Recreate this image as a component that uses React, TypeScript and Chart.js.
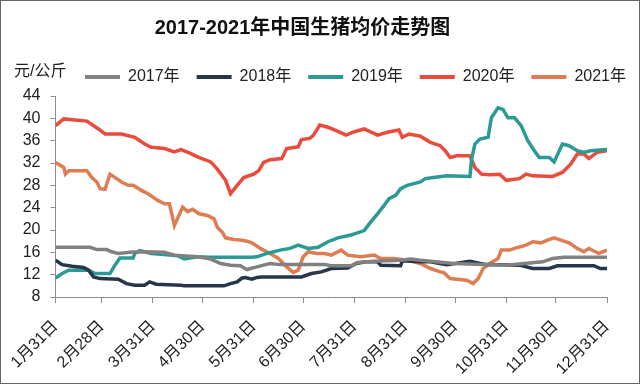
import { useEffect, useRef } from 'react';
import { Chart, registerables } from 'chart.js';

Chart.register(...registerables);

const TITLE = '2017-2021年中国生猪均价走势图';
const UNIT = '元/公斤';
const FONT = '"Liberation Sans", "Noto Sans CJK SC", sans-serif';

// month-end tick positions (day of year) and labels
const tickDays = [31, 59, 90, 120, 151, 181, 212, 243, 273, 304, 334, 365];
const tickLabels = ['1月31日', '2月28日', '3月31日', '4月30日', '5月31日', '6月30日', '7月31日', '8月31日', '9月30日', '10月31日', '11月30日', '12月31日'];

const seriesNames = ['2017年', '2018年', '2019年', '2020年', '2021年'];
const seriesColors = ['#818181', '#27364a', '#2b9a94', '#e94b3d', '#df7c52'];

// 2017
const days2017 = [31, 52, 56, 62, 65, 69, 76, 85, 97, 103, 117, 125, 131, 137, 143, 147, 149, 153, 157, 161, 167, 194, 198, 210, 214, 224, 240, 246, 252, 272, 304, 326, 332, 339, 365];
const price2017 = [16.9, 16.9, 16.5, 16.5, 16.1, 15.8, 16.0, 16.1, 16.0, 15.5, 15.2, 14.8, 14.0, 13.7, 13.6, 12.9, 13.1, 13.4, 13.7, 14.0, 13.8, 13.8, 13.6, 13.6, 14.2, 14.4, 14.6, 14.8, 14.6, 14.0, 13.7, 14.3, 14.9, 15.1, 15.1];

// 2018
const days2018 = [31, 35, 41, 48, 51, 54, 58, 69, 74, 79, 85, 88, 92, 107, 109, 133, 137, 141, 144, 146, 150, 153, 156, 180, 186, 192, 198, 208, 213, 219, 226, 228, 240, 241, 252, 258, 268, 282, 292, 312, 320, 330, 335, 357, 361, 365];
const price2018 = [14.6, 13.8, 13.5, 13.3, 12.8, 11.6, 11.3, 11.2, 10.4, 10.1, 10.1, 10.7, 10.3, 10.1, 10.0, 10.0, 10.4, 10.7, 11.4, 11.5, 11.2, 11.5, 11.6, 11.6, 12.2, 12.5, 13.1, 13.2, 14.0, 14.3, 14.3, 13.7, 13.6, 14.5, 14.3, 14.3, 13.8, 14.4, 13.8, 13.7, 13.1, 13.1, 13.6, 13.6, 13.1, 13.1];

// 2019
const days2019 = [31, 35, 39, 51, 55, 64, 67, 70, 78, 79, 82, 89, 93, 105, 109, 117, 125, 150, 153, 159, 167, 173, 178, 184, 190, 196, 202, 210, 213, 218, 221, 226, 230, 233, 237, 240, 244, 252, 255, 260, 268, 282, 283, 285, 288, 293, 295, 299, 302, 305, 309, 313, 317, 321, 324, 330, 333, 338, 342, 347, 351, 355, 365];
const price2019 = [11.4, 12.2, 12.8, 12.8, 12.2, 12.2, 13.7, 15.0, 15.0, 15.8, 16.3, 15.8, 15.7, 15.4, 14.8, 15.2, 15.1, 15.1, 15.2, 15.8, 16.4, 16.7, 17.3, 16.7, 16.9, 17.9, 18.6, 19.1, 19.4, 19.9, 21.1, 22.9, 24.4, 25.6, 26.2, 27.4, 28.0, 28.6, 29.2, 29.4, 29.7, 29.6, 32.7, 35.4, 36.3, 36.6, 40.1, 41.9, 41.6, 40.1, 40.1, 38.7, 36.0, 34.2, 33.0, 33.0, 32.2, 35.4, 35.1, 34.2, 33.9, 34.2, 34.4];

// 2020
const days2020 = [31, 36, 50, 57, 61, 71, 79, 85, 89, 97, 103, 107, 112, 117, 125, 129, 134, 137, 141, 145, 151, 154, 157, 161, 168, 171, 178, 180, 185, 187, 189, 191, 196, 201, 207, 212, 218, 226, 232, 239, 241, 245, 252, 258, 264, 267, 270, 274, 282, 285, 289, 294, 300, 304, 312, 316, 320, 332, 338, 343, 347, 351, 354, 359, 365];
const price2020 = [38.7, 39.9, 39.5, 38.1, 37.2, 37.2, 36.6, 35.4, 34.8, 34.6, 34.0, 34.4, 33.8, 33.1, 32.2, 30.9, 28.9, 26.5, 28.0, 29.4, 30.0, 30.6, 32.1, 32.6, 32.8, 34.6, 34.9, 36.2, 36.4, 36.9, 37.8, 38.8, 38.4, 37.8, 37.0, 37.6, 38.1, 37.0, 37.5, 37.9, 36.6, 37.2, 36.8, 35.7, 35.1, 34.2, 33.0, 33.3, 33.3, 31.2, 30.0, 29.9, 30.0, 28.9, 29.2, 30.0, 29.7, 29.6, 30.3, 31.8, 33.6, 33.6, 32.8, 33.9, 34.2];

// 2021
const days2021 = [31, 36, 37, 39, 50, 53, 56, 58, 61, 64, 71, 75, 78, 83, 87, 93, 97, 100, 103, 108, 111, 114, 118, 123, 127, 129, 132, 134, 139, 143, 147, 150, 155, 161, 166, 171, 175, 178, 181, 184, 189, 194, 198, 204, 208, 216, 224, 228, 236, 244, 252, 258, 264, 266, 270, 280, 284, 287, 290, 294, 299, 301, 306, 310, 316, 320, 325, 329, 333, 337, 342, 347, 351, 354, 360, 365];
const price2021 = [32.1, 31.2, 30.0, 30.6, 30.6, 29.4, 28.6, 27.4, 27.3, 30.0, 28.6, 28.0, 28.0, 27.1, 26.5, 25.3, 24.7, 24.7, 20.8, 24.1, 23.3, 23.7, 22.9, 22.6, 22.0, 20.5, 19.6, 18.6, 18.3, 18.2, 18.0, 17.7, 16.7, 15.8, 14.9, 13.4, 12.4, 12.8, 15.2, 16.1, 15.8, 15.8, 15.5, 16.4, 15.5, 15.2, 15.5, 14.9, 14.9, 14.6, 14.0, 13.1, 12.5, 12.4, 11.3, 11.0, 10.4, 11.3, 13.1, 14.0, 14.9, 16.4, 16.4, 16.8, 17.3, 17.9, 17.7, 18.2, 18.6, 18.2, 17.7, 16.7, 16.1, 16.7, 15.8, 16.4];

const yMin = 8;
const yMax = 44;
const yStep = 4;

const allDays = [days2017, days2018, days2019, days2020, days2021];
const allPrices = [price2017, price2018, price2019, price2020, price2021];

const extras = {
  id: 'extras',
  afterLayout(chart: any) {
    const lg = chart.legend;
    if (lg) {
      const w = lg.right - lg.left;
      lg.left = 68;
      lg.right = 68 + w;
      const h = lg.bottom - lg.top;
      lg.top = 52;
      lg.bottom = 52 + h;
    }
    const tb = chart.titleBlock;
    if (tb) {
      tb.left = 0;
      tb.right = 605;
    }
  },
  afterDraw(chart: any) {
    const ctx = chart.ctx;
    ctx.save();
    ctx.font = '16px ' + FONT;
    ctx.fillStyle = '#222';
    ctx.textBaseline = 'middle';
    ctx.textAlign = 'left';
    ctx.fillText(UNIT, 14, 72);
    ctx.strokeStyle = '#666';
    ctx.lineWidth = 1;
    ctx.strokeRect(0.5, 0.5, 639, 383);
    ctx.restore();
  },
};

export default function App() {
  const ref = useRef<HTMLCanvasElement>(null);
  useEffect(() => {
    document.body.style.margin = '0';
    const canvas = ref.current;
    if (!canvas) return;
    const chart = new Chart(canvas, {
      type: 'line',
      data: {
        datasets: seriesNames.map((name, i) => ({
          label: name,
          data: allDays[i].map((d, j) => ({ x: d, y: allPrices[i][j] })),
          borderColor: seriesColors[i],
          backgroundColor: seriesColors[i],
          borderWidth: 3.5,
          pointRadius: 0,
          tension: 0,
          fill: false,
        })),
      },
      options: {
        responsive: false,
        animation: false,
        events: [],
        layout: { padding: { left: 0, right: 33, top: 0, bottom: 0 } },
        plugins: {
          title: {
            display: true,
            text: TITLE,
            color: '#111',
            font: { family: FONT, size: 20, weight: 'bold', lineHeight: 1.2 },
            padding: { top: 16, bottom: 13 },
          },
          legend: {
            display: true,
            position: 'top',
            align: 'start',
            labels: {
              boxWidth: 35,
              boxHeight: 4,
              padding: 17,
              color: '#222',
              font: { family: FONT, size: 16 },
              generateLabels: (c: any) =>
                Chart.defaults.plugins.legend.labels.generateLabels(c).map((l: any) => ({ ...l, lineWidth: 0 })),
            },
          },
          tooltip: { enabled: false },
        },
        scales: {
          x: {
            type: 'linear',
            min: tickDays[0],
            max: tickDays[tickDays.length - 1],
            afterBuildTicks: (axis: any) => {
              axis.ticks = tickDays.map((v) => ({ value: v }));
            },
            afterFit: (axis: any) => {
              axis.height = 87;
            },
            ticks: {
              autoSkip: false,
              minRotation: 45,
              maxRotation: 45,
              padding: 14,
              color: '#222',
              font: { family: FONT, size: 16 },
              callback: (v: any) => tickLabels[tickDays.indexOf(Number(v))] ?? '',
            },
            grid: { drawOnChartArea: false, drawTicks: true, tickLength: 6, color: '#8c8c8c' },
            border: { display: true, color: '#8c8c8c', width: 1 },
          },
          y: {
            min: yMin,
            max: yMax,
            afterFit: (axis: any) => {
              axis.width = 54;
            },
            ticks: {
              stepSize: yStep,
              padding: 10,
              color: '#222',
              font: { family: FONT, size: 16 },
            },
            grid: { drawOnChartArea: false, drawTicks: true, tickLength: 5, color: '#8c8c8c' },
            border: { display: true, color: '#8c8c8c', width: 1 },
          },
        },
      },
      plugins: [extras],
    } as any);
    return () => chart.destroy();
  }, []);
  return <canvas ref={ref} width={640} height={384} style={{ display: 'block' }} />;
}
